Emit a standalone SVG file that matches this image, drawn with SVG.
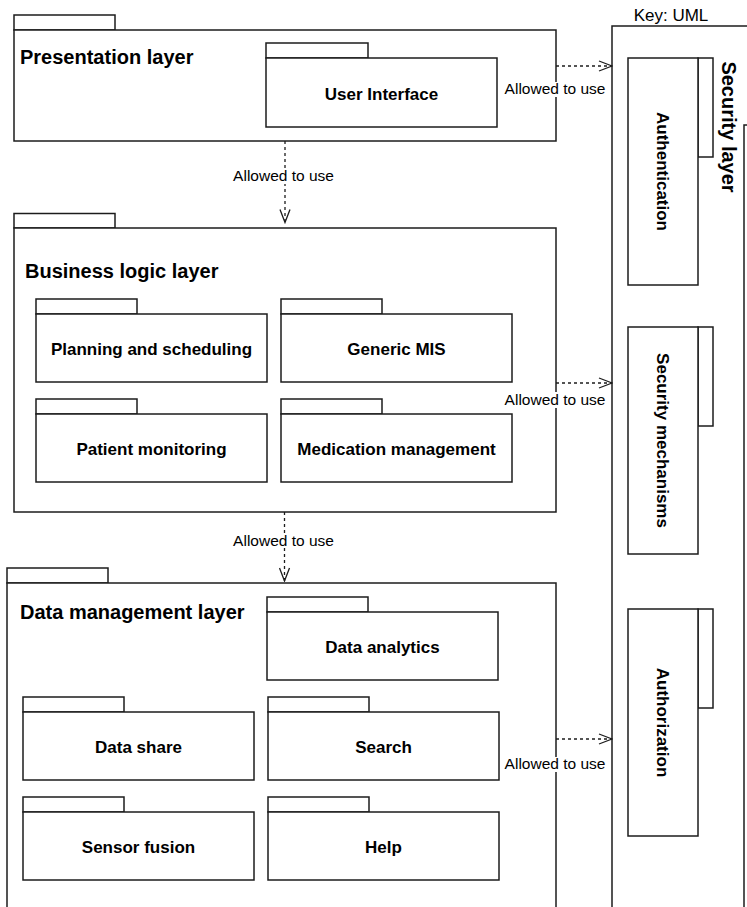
<svg xmlns="http://www.w3.org/2000/svg" width="747" height="907" viewBox="0 0 747 907">
  <style>
    .pkg { fill: #fff; stroke: #1c1c1c; stroke-width: 1.5; }
    .frame { fill: none; stroke: #1c1c1c; stroke-width: 1.5; }
    .title { font-family: "Liberation Sans", Arial, sans-serif; font-weight: bold; font-size: 20px; fill: #000; }
    .name { font-family: "Liberation Sans", Arial, sans-serif; font-weight: bold; font-size: 17px; fill: #000; text-anchor: middle; }
    .lbl { font-family: "Liberation Sans", Arial, sans-serif; font-size: 15.5px; fill: #000; text-anchor: middle; }
    .key { font-family: "Liberation Sans", Arial, sans-serif; font-size: 17px; fill: #000; text-anchor: middle; }
    .dep { fill: none; stroke: #1c1c1c; stroke-width: 1.3; stroke-dasharray: 3 3; marker-end: url(#open); }
    .bg { fill: #fff; }
  </style>
  <defs>
    <marker id="open" markerUnits="userSpaceOnUse" markerWidth="15" markerHeight="12" viewBox="0 0 15 12" refX="14" refY="6" orient="auto">
      <path d="M1,1 L14,6 L1,11" fill="none" stroke="#1c1c1c" stroke-width="1.3" stroke-dasharray="none"/>
    </marker>
  </defs>

  <rect x="0" y="0" width="747" height="907" fill="#fff"/>

  <!-- Presentation layer -->
  <g id="presentation-layer">
    <rect class="pkg" x="14" y="15" width="101" height="15"/>
    <rect class="pkg" x="14" y="30" width="542" height="111"/>
    <text class="title" x="20" y="64">Presentation layer</text>
  </g>
  <g id="user-interface">
    <rect class="pkg" x="266" y="43" width="102" height="15"/>
    <rect class="pkg" x="266" y="58" width="231" height="69"/>
    <text class="name" x="381.5" y="99.5">User Interface</text>
  </g>

  <!-- Business logic layer -->
  <g id="business-logic-layer">
    <rect class="pkg" x="14" y="213.5" width="101" height="14.5"/>
    <rect class="pkg" x="14" y="228" width="542" height="284"/>
    <text class="title" x="25" y="278">Business logic layer</text>
  </g>
  <g id="planning-and-scheduling">
    <rect class="pkg" x="36" y="299" width="101" height="15"/>
    <rect class="pkg" x="36" y="314" width="231" height="68"/>
    <text class="name" x="151.5" y="355">Planning and scheduling</text>
  </g>
  <g id="generic-mis">
    <rect class="pkg" x="281" y="299" width="101" height="15"/>
    <rect class="pkg" x="281" y="314" width="231" height="68"/>
    <text class="name" x="396.5" y="355">Generic MIS</text>
  </g>
  <g id="patient-monitoring">
    <rect class="pkg" x="36" y="399" width="101" height="15"/>
    <rect class="pkg" x="36" y="414" width="231" height="68"/>
    <text class="name" x="151.5" y="455">Patient monitoring</text>
  </g>
  <g id="medication-management">
    <rect class="pkg" x="281" y="399" width="101" height="15"/>
    <rect class="pkg" x="281" y="414" width="231" height="68"/>
    <text class="name" x="396.5" y="455">Medication management</text>
  </g>

  <!-- Data management layer -->
  <g id="data-management-layer">
    <rect class="pkg" x="7" y="568" width="101" height="15"/>
    <rect class="pkg" x="7" y="583" width="549" height="340"/>
    <text class="title" x="20" y="619">Data management layer</text>
  </g>
  <g id="data-analytics">
    <rect class="pkg" x="267" y="597" width="101" height="15"/>
    <rect class="pkg" x="267" y="612" width="231" height="68"/>
    <text class="name" x="382.5" y="653">Data analytics</text>
  </g>
  <g id="data-share">
    <rect class="pkg" x="23" y="697" width="101" height="15"/>
    <rect class="pkg" x="23" y="712" width="231" height="68"/>
    <text class="name" x="138.5" y="753">Data share</text>
  </g>
  <g id="search">
    <rect class="pkg" x="268" y="697" width="101" height="15"/>
    <rect class="pkg" x="268" y="712" width="231" height="68"/>
    <text class="name" x="383.5" y="753">Search</text>
  </g>
  <g id="sensor-fusion">
    <rect class="pkg" x="23" y="797" width="101" height="15"/>
    <rect class="pkg" x="23" y="812" width="231" height="68"/>
    <text class="name" x="138.5" y="853">Sensor fusion</text>
  </g>
  <g id="help">
    <rect class="pkg" x="268" y="797" width="101" height="15"/>
    <rect class="pkg" x="268" y="812" width="231" height="68"/>
    <text class="name" x="383.5" y="853">Help</text>
  </g>

  <!-- Security layer (package turned on its side, tab on the right) -->
  <g id="security-layer">
    <text class="key" x="671" y="21">Key: UML</text>
    <path class="frame" d="M612,920 V26 H760 V125 H744 V920"/>
    <text class="title" transform="translate(722,127) rotate(90)" text-anchor="middle">Security layer</text>
  </g>
  <g id="authentication">
    <rect class="pkg" x="698" y="58" width="15" height="99"/>
    <rect class="pkg" x="628" y="58" width="70" height="227"/>
    <text class="name" transform="translate(656.5,171.5) rotate(90)">Authentication</text>
  </g>
  <g id="security-mechanisms">
    <rect class="pkg" x="698" y="327" width="15" height="99"/>
    <rect class="pkg" x="628" y="327" width="70" height="227"/>
    <text class="name" transform="translate(656.5,440.5) rotate(90)">Security mechanisms</text>
  </g>
  <g id="authorization">
    <rect class="pkg" x="698" y="609" width="15" height="99"/>
    <rect class="pkg" x="628" y="609" width="70" height="227"/>
    <text class="name" transform="translate(656.5,722.5) rotate(90)">Authorization</text>
  </g>

  <!-- "Allowed to use" dependencies -->
  <g id="connectors">
    <path class="dep" d="M556,66 H612"/>
    <path class="dep" d="M556,383 H612"/>
    <path class="dep" d="M556,739 H612"/>
    <path class="dep" d="M285,141 V222.5"/>
    <path class="dep" d="M284.5,512 V581"/>

    <rect class="bg" x="503" y="82" width="104" height="15"/>
    <text class="lbl" x="555" y="93.5">Allowed to use</text>
    <rect class="bg" x="503" y="392" width="104" height="16"/>
    <text class="lbl" x="555" y="405">Allowed to use</text>
    <rect class="bg" x="503" y="757" width="104" height="15"/>
    <text class="lbl" x="555" y="769">Allowed to use</text>
    <rect class="bg" x="231" y="169" width="105" height="15"/>
    <text class="lbl" x="283.5" y="181">Allowed to use</text>
    <rect class="bg" x="231" y="533" width="105" height="15"/>
    <text class="lbl" x="283.5" y="545.5">Allowed to use</text>
  </g>
</svg>
